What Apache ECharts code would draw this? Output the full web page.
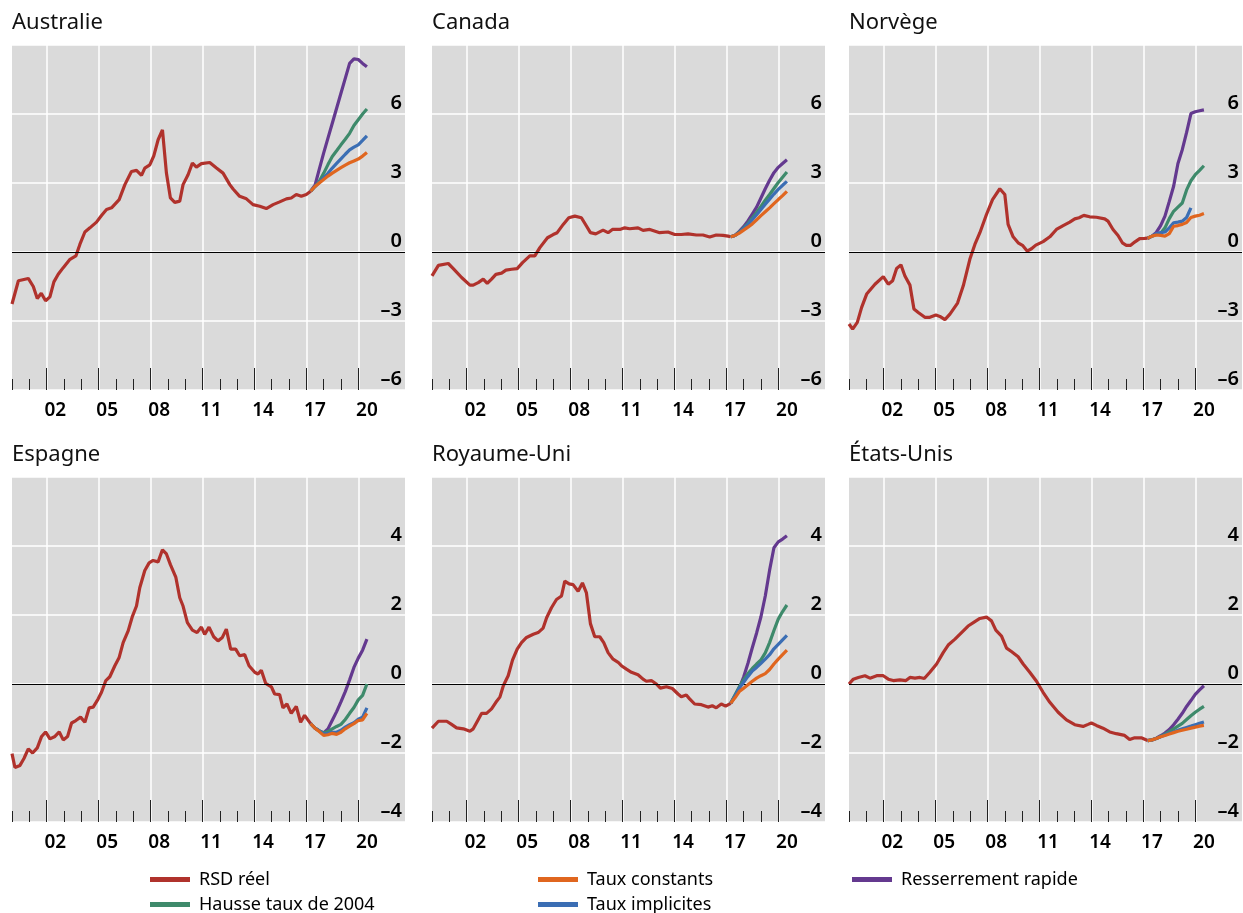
<!DOCTYPE html>
<html><head><meta charset="utf-8">
<script src="https://cdn.jsdelivr.net/npm/echarts@6/dist/echarts.min.js"></script>
<style>html,body{margin:0;padding:0;background:#fff}#c{width:1243px;height:913px}</style>
</head><body><div id="c"></div>
<script>
const countries = ['Australie','Canada','Norvège','Espagne','Royaume-Uni','États-Unis'];
const majorYears = [2002,2005,2008,2011,2014,2017,2020];
const tickLabels = ['02','05','08','11','14','17','20'];
const minorYears = [2000,2001,2002,2003,2004,2005,2006,2007,2008,2009,2010,2011,2012,2013,2014,2015,2016,2017,2018,2019,2020];
const projYears = [2017.25,2017.5,2017.75,2018,2018.25,2018.5,2018.75,2019,2019.25,2019.5,2019.75,2020,2020.25,2020.5];

const ausRsd = [[2000.0,-2.26],[2000.37,-1.25],[2000.94,-1.15],[2001.23,-1.5],[2001.46,-2.02],[2001.69,-1.79],[2001.94,-2.12],[2002.19,-1.95],[2002.42,-1.3],[2002.67,-0.97],[2002.96,-0.68],[2003.35,-0.32],[2003.69,-0.17],[2003.92,0.33],[2004.21,0.87],[2004.5,1.05],[2004.88,1.3],[2005.17,1.59],[2005.46,1.85],[2005.75,1.92],[2006.19,2.28],[2006.52,2.93],[2006.9,3.5],[2007.19,3.55],[2007.48,3.33],[2007.67,3.65],[2007.96,3.79],[2008.19,4.18],[2008.44,4.88],[2008.69,5.31],[2008.92,3.43],[2009.15,2.35],[2009.4,2.16],[2009.69,2.21],[2009.88,2.93],[2010.17,3.36],[2010.42,3.87],[2010.65,3.69],[2010.94,3.84],[2011.42,3.89],[2011.81,3.65],[2012.19,3.43],[2012.58,2.93],[2012.77,2.74],[2013.15,2.42],[2013.54,2.31],[2013.92,2.06],[2014.31,1.99],[2014.69,1.89],[2015.08,2.06],[2015.46,2.18],[2015.85,2.31],[2016.13,2.35],[2016.42,2.5],[2016.71,2.42],[2017.0,2.5],[2017.25,2.64]];
const ausConst = [2.64,2.85,3.0,3.15,3.3,3.43,3.55,3.67,3.78,3.88,3.96,4.04,4.17,4.33];
const ausImpl = [2.64,2.85,3.02,3.22,3.42,3.65,3.85,4.05,4.25,4.44,4.56,4.66,4.85,5.05];
const ausHausse = [2.64,2.85,3.08,3.42,3.8,4.15,4.4,4.66,4.9,5.16,5.5,5.75,6.0,6.22];
const ausRapide = [2.64,2.9,3.6,4.3,4.95,5.6,6.25,6.9,7.55,8.2,8.4,8.37,8.2,8.05];

const canRsd = [[2000.0,-1.04],[2000.37,-0.58],[2000.94,-0.5],[2001.23,-0.72],[2001.71,-1.11],[2002.19,-1.44],[2002.38,-1.44],[2002.67,-1.33],[2002.96,-1.18],[2003.19,-1.36],[2003.44,-1.18],[2003.69,-0.97],[2004.02,-0.92],[2004.27,-0.79],[2004.6,-0.75],[2004.92,-0.72],[2005.23,-0.46],[2005.65,-0.17],[2005.94,-0.17],[2006.23,0.19],[2006.67,0.62],[2007.0,0.76],[2007.23,0.84],[2007.58,1.2],[2007.9,1.49],[2008.25,1.56],[2008.63,1.49],[2008.92,1.13],[2009.15,0.84],[2009.46,0.79],[2009.88,0.95],[2010.17,0.84],[2010.42,0.98],[2010.85,0.98],[2011.13,1.05],[2011.42,1.01],[2011.9,1.05],[2012.19,0.94],[2012.58,0.98],[2013.15,0.84],[2013.63,0.87],[2014.02,0.76],[2014.4,0.76],[2014.79,0.79],[2015.27,0.74],[2015.65,0.74],[2016.04,0.65],[2016.42,0.74],[2016.81,0.72],[2017.1,0.69],[2017.25,0.66]];
const canConst = [0.66,0.72,0.82,0.95,1.08,1.22,1.4,1.58,1.75,1.92,2.1,2.28,2.45,2.64];
const canImpl = [0.66,0.72,0.85,1.02,1.2,1.4,1.62,1.85,2.08,2.3,2.52,2.72,2.9,3.07];
const canHausse = [0.66,0.72,0.87,1.05,1.25,1.48,1.72,1.98,2.25,2.5,2.76,3.02,3.25,3.48];
const canRapide = [0.66,0.72,0.9,1.1,1.35,1.65,1.95,2.35,2.75,3.12,3.45,3.68,3.85,4.01];

const norRsd = [[2000.0,-3.13],[2000.21,-3.35],[2000.48,-3.06],[2000.73,-2.41],[2001.02,-1.83],[2001.5,-1.4],[2001.98,-1.07],[2002.27,-1.4],[2002.52,-1.25],[2002.75,-0.72],[2003.0,-0.56],[2003.23,-1.04],[2003.52,-1.44],[2003.75,-2.48],[2004.0,-2.63],[2004.38,-2.84],[2004.67,-2.84],[2005.02,-2.74],[2005.25,-2.8],[2005.54,-2.94],[2005.83,-2.7],[2006.27,-2.22],[2006.6,-1.47],[2006.98,-0.32],[2007.27,0.33],[2007.56,0.84],[2007.94,1.63],[2008.29,2.28],[2008.71,2.75],[2009.0,2.5],[2009.19,1.2],[2009.48,0.66],[2009.77,0.4],[2010.02,0.29],[2010.29,0.04],[2010.54,0.14],[2010.79,0.3],[2011.21,0.45],[2011.6,0.66],[2011.98,0.98],[2012.37,1.15],[2012.75,1.3],[2013.04,1.44],[2013.29,1.49],[2013.56,1.59],[2013.9,1.53],[2014.29,1.51],[2014.77,1.44],[2014.96,1.34],[2015.25,0.98],[2015.54,0.72],[2015.79,0.4],[2016.02,0.29],[2016.27,0.29],[2016.5,0.43],[2016.79,0.58],[2017.08,0.59],[2017.25,0.6]];
const norConst = [0.6,0.69,0.74,0.72,0.69,0.8,1.12,1.15,1.2,1.28,1.5,1.56,1.6,1.67];
const norImpl = [0.6,0.69,0.8,0.84,0.87,1.05,1.27,1.3,1.34,1.5,1.92];
const norHausse = [0.6,0.69,0.76,0.82,1.05,1.45,1.77,1.95,2.13,2.7,3.1,3.36,3.55,3.75];
const norRapide = [0.6,0.69,0.85,1.15,1.56,2.2,2.86,3.85,4.45,5.2,6.02,6.1,6.14,6.18];

const espRsd = [[2000.0,-2.02],[2000.17,-2.42],[2000.46,-2.36],[2000.69,-2.16],[2000.94,-1.88],[2001.19,-2.0],[2001.46,-1.85],[2001.71,-1.52],[2001.94,-1.39],[2002.19,-1.59],[2002.48,-1.52],[2002.73,-1.39],[2002.96,-1.62],[2003.21,-1.52],[2003.44,-1.13],[2003.69,-1.06],[2003.96,-0.96],[2004.21,-1.11],[2004.46,-0.69],[2004.69,-0.67],[2004.98,-0.43],[2005.17,-0.24],[2005.42,0.1],[2005.65,0.21],[2005.94,0.53],[2006.19,0.77],[2006.42,1.2],[2006.71,1.54],[2006.96,1.97],[2007.19,2.26],[2007.38,2.79],[2007.67,3.29],[2007.92,3.51],[2008.15,3.58],[2008.44,3.54],[2008.69,3.89],[2008.92,3.77],[2009.15,3.46],[2009.46,3.1],[2009.69,2.5],[2009.88,2.26],[2010.13,1.78],[2010.42,1.56],[2010.69,1.49],[2010.94,1.65],[2011.13,1.44],[2011.38,1.65],[2011.65,1.37],[2011.9,1.25],[2012.15,1.35],[2012.38,1.59],[2012.63,1.01],[2012.92,1.01],[2013.15,0.82],[2013.44,0.85],[2013.69,0.53],[2014.02,0.34],[2014.21,0.29],[2014.4,0.4],[2014.65,0.02],[2014.98,-0.08],[2015.17,-0.29],[2015.46,-0.31],[2015.65,-0.69],[2015.88,-0.58],[2016.13,-0.85],[2016.42,-0.65],[2016.67,-1.11],[2016.9,-0.91],[2017.25,-1.15]];
const espConst = [-1.15,-1.28,-1.38,-1.49,-1.47,-1.43,-1.46,-1.4,-1.3,-1.22,-1.15,-1.06,-1.04,-0.85];
const espImpl = [-1.15,-1.28,-1.36,-1.45,-1.43,-1.4,-1.4,-1.34,-1.25,-1.18,-1.12,-1.02,-0.96,-0.69];
const espHausse = [-1.15,-1.28,-1.36,-1.42,-1.38,-1.3,-1.23,-1.17,-1.03,-0.85,-0.68,-0.46,-0.33,0.0];
const espRapide = [-1.15,-1.28,-1.36,-1.42,-1.3,-1.05,-0.8,-0.52,-0.22,0.12,0.48,0.75,0.98,1.3];

const gbrRsd = [[2000.0,-1.28],[2000.37,-1.08],[2000.85,-1.08],[2001.13,-1.17],[2001.42,-1.27],[2001.81,-1.3],[2002.19,-1.37],[2002.38,-1.3],[2002.62,-1.08],[2002.87,-0.85],[2003.15,-0.85],[2003.44,-0.72],[2003.69,-0.53],[2003.92,-0.38],[2004.12,-0.05],[2004.4,0.24],[2004.65,0.69],[2004.92,1.01],[2005.17,1.2],[2005.46,1.35],[2005.85,1.44],[2006.13,1.49],[2006.42,1.62],[2006.62,1.92],[2006.9,2.21],[2007.19,2.45],[2007.48,2.55],[2007.67,2.98],[2007.92,2.9],[2008.15,2.88],[2008.44,2.69],[2008.69,2.93],[2008.92,2.64],[2009.15,1.75],[2009.4,1.37],[2009.69,1.37],[2009.92,1.2],[2010.17,0.91],[2010.46,0.72],[2010.75,0.63],[2010.94,0.53],[2011.23,0.43],[2011.52,0.34],[2011.9,0.27],[2012.19,0.14],[2012.38,0.08],[2012.67,0.1],[2012.96,0.0],[2013.19,-0.12],[2013.54,-0.08],[2013.88,-0.13],[2014.21,-0.29],[2014.4,-0.37],[2014.69,-0.32],[2014.88,-0.43],[2015.17,-0.58],[2015.56,-0.6],[2015.94,-0.67],[2016.19,-0.63],[2016.42,-0.69],[2016.71,-0.58],[2016.96,-0.64],[2017.25,-0.56]];
const gbrConst = [-0.56,-0.4,-0.22,-0.12,-0.02,0.08,0.17,0.24,0.3,0.42,0.58,0.72,0.85,0.98];
const gbrImpl = [-0.56,-0.35,-0.12,0.05,0.22,0.38,0.48,0.6,0.72,0.85,1.02,1.15,1.28,1.41];
const gbrHausse = [-0.56,-0.32,-0.08,0.12,0.3,0.45,0.58,0.7,0.9,1.2,1.55,1.88,2.1,2.29];
const gbrRapide = [-0.56,-0.35,-0.12,0.2,0.6,1.05,1.48,1.95,2.55,3.3,3.95,4.12,4.2,4.3];

const usaRsd = [[2000.0,0.0],[2000.25,0.14],[2000.54,0.19],[2000.92,0.24],[2001.21,0.17],[2001.6,0.24],[2001.98,0.24],[2002.27,0.14],[2002.56,0.1],[2002.94,0.12],[2003.29,0.1],[2003.52,0.19],[2003.81,0.17],[2004.1,0.19],[2004.35,0.16],[2004.67,0.34],[2005.06,0.58],[2005.44,0.91],[2005.73,1.13],[2006.12,1.3],[2006.5,1.49],[2006.88,1.68],[2007.27,1.81],[2007.56,1.9],[2007.94,1.94],[2008.23,1.83],[2008.48,1.56],[2008.81,1.39],[2009.1,1.04],[2009.38,0.94],[2009.77,0.79],[2010.06,0.58],[2010.44,0.34],[2010.83,0.08],[2011.21,-0.24],[2011.6,-0.53],[2012.08,-0.82],[2012.56,-1.04],[2013.04,-1.18],[2013.52,-1.23],[2013.81,-1.17],[2014.0,-1.13],[2014.29,-1.2],[2014.67,-1.28],[2015.06,-1.39],[2015.44,-1.44],[2015.92,-1.49],[2016.21,-1.61],[2016.5,-1.56],[2016.88,-1.56],[2017.25,-1.64]];
const usaConst = [-1.64,-1.62,-1.58,-1.53,-1.49,-1.45,-1.41,-1.37,-1.34,-1.31,-1.28,-1.25,-1.22,-1.2];
const usaImpl = [-1.64,-1.62,-1.58,-1.53,-1.48,-1.43,-1.39,-1.34,-1.3,-1.26,-1.22,-1.18,-1.14,-1.1];
const usaHausse = [-1.64,-1.62,-1.58,-1.52,-1.45,-1.38,-1.3,-1.22,-1.14,-1.03,-0.92,-0.82,-0.73,-0.65];
const usaRapide = [-1.64,-1.62,-1.57,-1.5,-1.42,-1.32,-1.18,-1.02,-0.85,-0.65,-0.48,-0.3,-0.17,-0.05];

const panels = [
  {rsd: ausRsd, c: ausConst, i: ausImpl, h: ausHausse, r: ausRapide},
  {rsd: canRsd, c: canConst, i: canImpl, h: canHausse, r: canRapide},
  {rsd: norRsd, c: norConst, i: norImpl, h: norHausse, r: norRapide},
  {rsd: espRsd, c: espConst, i: espImpl, h: espHausse, r: espRapide},
  {rsd: gbrRsd, c: gbrConst, i: gbrImpl, h: gbrHausse, r: gbrRapide},
  {rsd: usaRsd, c: usaConst, i: usaImpl, h: usaHausse, r: usaRapide}
];
const rowScale = [{min:-6,max:9,interval:3},{min:-4,max:6,interval:2}];

const FONT = '"Noto Sans", "Open Sans", sans-serif';
const COL = {rsd:'#B0322C', c:'#E0661F', i:'#3B6EB4', h:'#3E8A6B', r:'#64398F'};
const lefts = [12, 432, 849], tops = [45, 477], W = 393, H = 345, MAJOR_TICK_PX = 22;

const grid = [], xAxis = [], yAxis = [], series = [], title = [];
const proj = arr => arr.map((v, k) => [projYears[k], v]);

panels.forEach((p, idx) => {
  const row = Math.floor(idx / 3), col = idx % 3;
  const sc = rowScale[row];
  grid.push({left: lefts[col], top: tops[row], width: W, height: H, show: true,
    backgroundColor: '#DADADA', borderWidth: 0, containLabel: false});
  title.push({text: countries[idx], left: lefts[col], top: tops[row] - 33, padding: 0,
    textStyle: {fontFamily: FONT, fontSize: 22, fontWeight: 'normal', color: '#111'}});

  const yi = yAxis.length;
  yAxis.push({type: 'value', gridIndex: idx, min: sc.min, max: sc.max, interval: sc.interval,
    position: 'right', axisLine: {show: false, onZero: false}, axisTick: {show: false},
    splitLine: {show: true, lineStyle: {color: '#fff', width: 1.5}},
    axisLabel: {inside: true, margin: 3, verticalAlign: 'bottom', padding: [0, 0, 1, 0],
      fontFamily: FONT, fontSize: 20, fontWeight: 600, color: '#000',
      formatter: v => v === sc.max ? '' : (v < 0 ? '\u2013' + Math.abs(v) : String(v))}
  });

  const xi = xAxis.length;
  // main x axis: vertical gridlines at the labelled years + year labels
  xAxis.push({type: 'value', gridIndex: idx, min: 2000, max: 2022.7, position: 'bottom',
    axisLine: {show: false, onZero: false},
    axisTick: {show: false, customValues: majorYears},
    splitLine: {show: true, lineStyle: {color: '#fff', width: 1.5}},
    axisLabel: {show: true, customValues: majorYears.map(y => y + 0.5), margin: 11,
      formatter: v => tickLabels[majorYears.indexOf(Math.round(v - 0.5))] || '',
      fontFamily: FONT, fontSize: 19, fontWeight: 600, color: '#000'}
  });
  // short ticks every year
  xAxis.push({type: 'value', gridIndex: idx, min: 2000, max: 2022.7, position: 'bottom',
    axisLine: {show: false, onZero: false},
    axisTick: {show: true, inside: true, length: 11, customValues: minorYears,
      lineStyle: {color: '#222', width: 1}},
    splitLine: {show: false}, axisLabel: {show: false}
  });

  // zero line and long ticks at the labelled years (drawn above the white gridlines)
  const tickLen = (sc.max - sc.min) * MAJOR_TICK_PX / H;
  series.push({type: 'line', xAxisIndex: xi, yAxisIndex: yi, data: [], silent: true, z: 1,
    markLine: {silent: true, symbol: 'none', label: {show: false},
      lineStyle: {color: '#000', width: 1, type: 'solid'}, data: [{yAxis: 0}], animation: false}});
  series.push({type: 'line', xAxisIndex: xi, yAxisIndex: yi, data: [], silent: true, z: 2,
    markLine: {silent: true, symbol: 'none', label: {show: false},
      lineStyle: {color: '#222', width: 1, type: 'solid'}, animation: false,
      data: majorYears.map(y => [{coord: [y, sc.min]}, {coord: [y, sc.min + tickLen]}])}});
  const mk = (name, data, color, z) => ({type: 'line', name, xAxisIndex: xi, yAxisIndex: yi,
    data, showSymbol: false, symbol: 'none', z, color,
    lineStyle: {color, width: 3.2}, itemStyle: {color}, animation: false});
  series.push(mk('RSD réel', p.rsd, COL.rsd, 3));
  series.push(mk('Resserrement rapide', proj(p.r), COL.r, 4));
  series.push(mk('Hausse taux de 2004', proj(p.h), COL.h, 5));
  series.push(mk('Taux implicites', proj(p.i), COL.i, 6));
  series.push(mk('Taux constants', proj(p.c), COL.c, 7));
});

const legendItems = [
  {name: 'RSD réel', left: 150, top: 869},
  {name: 'Taux constants', left: 538, top: 869},
  {name: 'Resserrement rapide', left: 852, top: 869},
  {name: 'Hausse taux de 2004', left: 150, top: 894},
  {name: 'Taux implicites', left: 538, top: 894}
];
const legend = legendItems.map(it => ({orient: 'horizontal', icon: 'rect', itemWidth: 40, itemHeight: 5,
  padding: 0, top: it.top, left: it.left, selectedMode: false, data: [it.name],
  textStyle: {fontFamily: FONT, fontSize: 18, color: '#000', padding: [0, 0, 0, 4], lineHeight: 21}}));

const chart = echarts.init(document.getElementById('c'), null, {renderer: 'canvas'});
chart.setOption({animation: false, backgroundColor: '#fff', title, grid, xAxis, yAxis, series, legend});
</script></body></html>
